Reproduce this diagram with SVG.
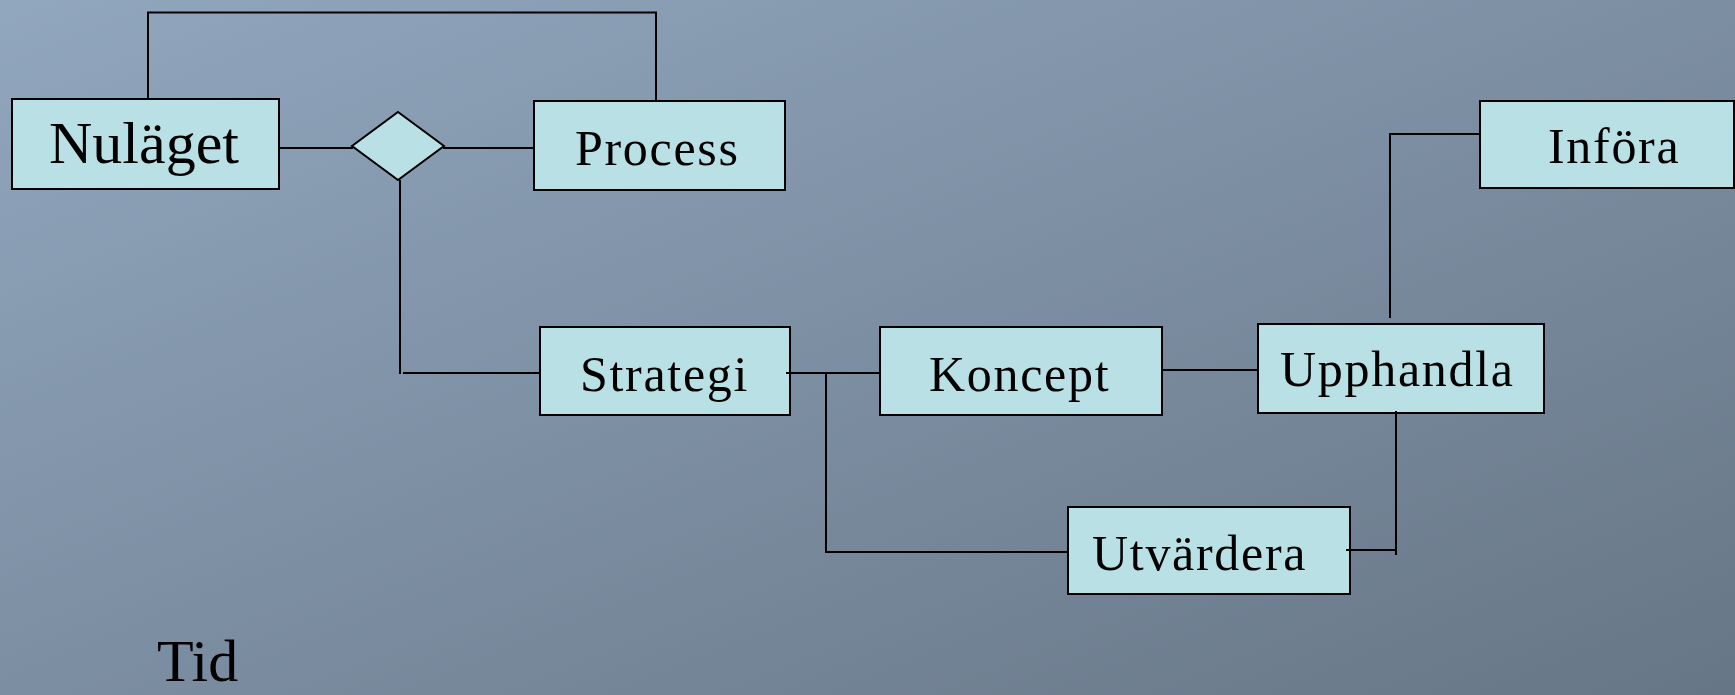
<svg xmlns="http://www.w3.org/2000/svg" width="1735" height="695" viewBox="0 0 1735 695">
<defs>
<linearGradient id="bg" x1="0" y1="0" x2="1" y2="1">
<stop offset="0" stop-color="#91a7be"/>
<stop offset="0.5" stop-color="#7c8ea2"/>
<stop offset="1" stop-color="#677686"/>
</linearGradient>
<style>
.box{fill:#b9e0e4;stroke:#000;stroke-width:2}
.lbl{font-family:"Liberation Serif","Times New Roman",serif;font-size:50px;letter-spacing:1.7px;fill:#000}
.big{font-family:"Liberation Serif","Times New Roman",serif;font-size:60px;fill:#000}
.ln{fill:none;stroke:#000;stroke-width:2}
</style>
</defs>
<rect x="0" y="0" width="1735" height="695" fill="url(#bg)"/>
<g id="node-nulaget">
<rect class="box" x="12" y="99" width="267" height="90"/>
<text class="big" x="49" y="163">Nuläget</text>
</g>
<g id="node-diamond">
<polygon class="box" points="398,112 444,146 398,180 352,146"/>
</g>
<g id="node-process">
<rect class="box" x="534" y="101" width="251" height="89"/>
<text class="lbl" x="575" y="165">Process</text>
</g>
<g id="node-strategi">
<rect class="box" x="540" y="327" width="250" height="88"/>
<text class="lbl" x="580" y="391">Strategi</text>
</g>
<g id="node-koncept">
<rect class="box" x="880" y="327" width="282" height="88"/>
<text class="lbl" x="929" y="391">Koncept</text>
</g>
<g id="node-upphandla">
<rect class="box" x="1258" y="324" width="286" height="89"/>
<text class="lbl" x="1280" y="386">Upphandla</text>
</g>
<g id="node-infora">
<rect class="box" x="1480" y="101" width="254" height="87"/>
<text class="lbl" x="1548" y="163">Införa</text>
</g>
<g id="node-utvardera">
<rect class="box" x="1068" y="507" width="282" height="87"/>
<text class="lbl" x="1092" y="570">Utvärdera</text>
</g>
<g id="connectors">
<polyline class="ln" points="148,100 148,12.5 656,12.5 656,101"/>
<line class="ln" x1="280" y1="148" x2="353" y2="148"/>
<line class="ln" x1="443" y1="148" x2="534" y2="148"/>
<polyline class="ln" points="400,180 400,374"/>
<line class="ln" x1="403" y1="373" x2="540" y2="373"/>
<line class="ln" x1="786" y1="373" x2="880" y2="373"/>
<polyline class="ln" points="826,373 826,552 1068,552"/>
<line class="ln" x1="1163" y1="370" x2="1258" y2="370"/>
<polyline class="ln" points="1390,318 1390,134 1480,134"/>
<polyline class="ln" points="1396,411 1396,555"/>
<line class="ln" x1="1346" y1="550" x2="1396" y2="550"/>
</g>
<text class="big" x="157" y="681">Tid</text>
</svg>
